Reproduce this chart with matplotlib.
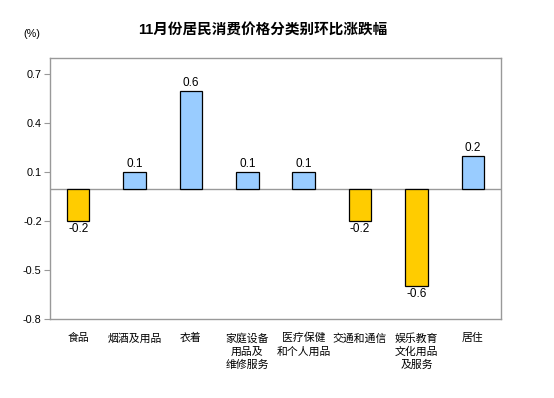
import numpy as np
import matplotlib.pyplot as plt

plt.rcParams['font.family'] = ['Liberation Sans', 'Noto Sans CJK SC', 'DejaVu Sans']

categories = ["食品", "烟酒及用品", "衣着", "家庭设备\n用品及\n维修服务", "医疗保健\n和个人用品",
              "交通和通信", "娱乐教育\n文化用品\n及服务", "居住"]
values = [-0.2, 0.1, 0.6, 0.1, 0.1, -0.2, -0.6, 0.2]
yticks = [-0.8, -0.5, -0.2, 0.1, 0.4, 0.7]
title = "11月份居民消费价格分类别环比涨跌幅"

BLUE = "#99CCFF"
YELLOW = "#FFCC00"
GRAY = "#999999"


def main():
    fig = plt.figure(figsize=(5.54, 3.98), dpi=100)
    ax = fig.add_axes([50 / 554, 1 - 319 / 398, 451 / 554, 261 / 398])

    x = np.arange(len(values))
    colors = [BLUE if v > 0 else YELLOW for v in values]
    ax.bar(x, values, width=0.4, color=colors, edgecolor="black", linewidth=0.9, zorder=3)

    for xi, v in zip(x, values):
        if v > 0:
            ax.annotate("{:.1f}".format(v), (xi, v), xytext=(0, 1.5), textcoords="offset points",
                        ha="center", va="bottom", fontsize=8.5)
        else:
            ax.annotate("{:.1f}".format(v), (xi, v), xytext=(0, -1.5), textcoords="offset points",
                        ha="center", va="top", fontsize=8.5)

    ax.axhline(0, color=GRAY, linewidth=1, zorder=2)
    ax.set_xlim(-0.5, len(values) - 0.5)
    ax.set_ylim(-0.8, 0.8)
    ax.set_yticks(yticks)
    ax.set_yticklabels(["{:.1f}".format(t) for t in yticks], fontsize=7.8)
    ax.set_xticks(x)
    ax.set_xticklabels(categories, fontsize=7.8, linespacing=1.35, va="top")
    ax.tick_params(axis="x", length=0, pad=10)
    ax.tick_params(axis="y", length=4, color=GRAY, pad=2)
    for s in ax.spines.values():
        s.set_color(GRAY)
        s.set_linewidth(1)

    fig.text(263 / 554, 1 - 31 / 398, title, ha="center", va="center",
             fontsize=10.5, fontweight="bold")
    fig.text(32 / 554, 1 - 34 / 398, "(%)", ha="center", va="center", fontsize=7.8)

    fig.savefig("out.png", dpi=100)


if __name__ == '__main__':
    main()
